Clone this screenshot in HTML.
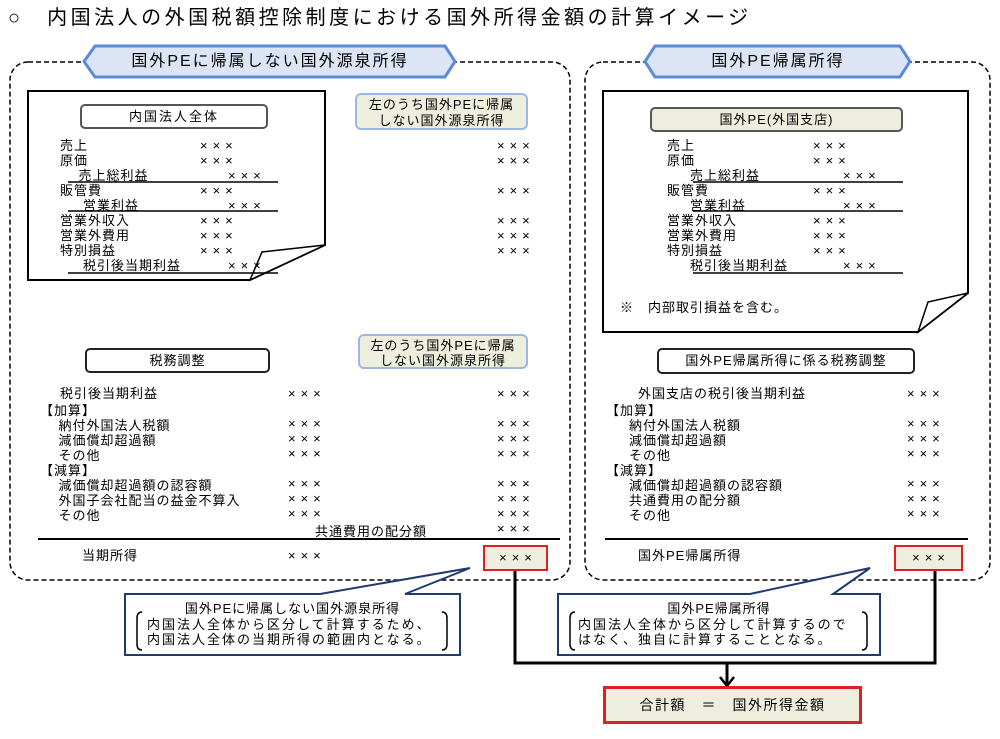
<!DOCTYPE html>
<html><head><meta charset="utf-8"><style>
body{margin:0;width:1000px;height:739px;background:#fff;position:relative;overflow:hidden;font-family:"Liberation Sans","Noto Sans CJK JP",sans-serif;color:#000}
.a{position:absolute;white-space:nowrap;font-size:13px;line-height:15px;letter-spacing:1px}
.x{letter-spacing:5px}
.b{position:absolute;box-sizing:border-box;letter-spacing:1px}
</style></head><body>
<svg width="1000" height="739" style="position:absolute;left:0;top:0">
<rect x="10" y="62" width="560" height="518" rx="18" fill="none" stroke="#000" stroke-width="1.5" stroke-dasharray="5,3"/>
<rect x="585" y="62" width="405" height="518" rx="18" fill="none" stroke="#000" stroke-width="1.5" stroke-dasharray="5,3"/>
<polygon points="95,46 445,46 455,61.5 445,77 95,77 84,61.5" fill="#dbe5f5" stroke="#5b8bd6" stroke-width="3"/>
<polygon points="655,46 900,46 910,61.5 900,77 655,77 645,61.5" fill="#dbe5f5" stroke="#5b8bd6" stroke-width="3"/>
<polygon points="28,91 325,91 325,245 250,280 28,280" fill="#fff" stroke="#000" stroke-width="2"/>
<polygon points="250,280 262,252 325,245" fill="#fff" stroke="#000" stroke-width="1.5"/>
<polygon points="603,91 968,91 968,293 918,332 603,332" fill="#fff" stroke="#000" stroke-width="2"/>
<polygon points="918,332 928,302 968,293" fill="#fff" stroke="#000" stroke-width="1.5"/>
<g stroke="#000" stroke-width="1.5">
<line x1="68" y1="182" x2="278" y2="182"/><line x1="68" y1="211" x2="278" y2="211"/><line x1="68" y1="273" x2="278" y2="273"/>
<line x1="693" y1="182" x2="903" y2="182"/><line x1="693" y1="211" x2="903" y2="211"/><line x1="693" y1="273" x2="903" y2="273"/>
<line x1="38" y1="539" x2="560" y2="539" stroke-width="2"/><line x1="605" y1="539" x2="968" y2="539" stroke-width="2"/>
</g>
<polyline points="515,570 515,663 935,663 935,570" fill="none" stroke="#000" stroke-width="3"/>
<line x1="727" y1="663" x2="727" y2="684" stroke="#000" stroke-width="3"/>
<polyline points="720,677 727,686 734,677" fill="none" stroke="#000" stroke-width="2.5"/>
<polygon points="125,594 320,594 470,568 405,594 460,594 460,655 125,655" fill="#fff" stroke="#1f3a6e" stroke-width="2"/>
<polygon points="558,594 750,594 870,568 833,594 880,594 880,655 558,655" fill="#fff" stroke="#1f3a6e" stroke-width="2"/>
<path d="M142,612 q-5,0 -5,6 v26 q0,6 5,6 M442,612 q5,0 5,6 v26 q0,6 -5,6" fill="none" stroke="#000" stroke-width="1.5"/>
<path d="M575,612 q-5,0 -5,6 v26 q0,6 5,6 M862,612 q5,0 5,6 v26 q0,6 -5,6" fill="none" stroke="#000" stroke-width="1.5"/>
</svg>
<div class="a" style="left:8px;top:6px;font-size:20px;line-height:24px;letter-spacing:3.5px">○　内国法人の外国税額控除制度における国外所得金額の計算イメージ</div>
<div class="a" style="left:84px;top:52px;width:372px;text-align:center;font-size:16px;line-height:20px;letter-spacing:2px">国外PEに帰属しない国外源泉所得</div>
<div class="a" style="left:645px;top:52px;width:266px;text-align:center;font-size:16px;line-height:20px;letter-spacing:2px">国外PE帰属所得</div>
<div class="b" style="left:80px;top:104px;width:188px;height:25px;border:2px solid #555;border-radius:5px;text-align:center;font-size:13px;line-height:21px;letter-spacing:2px">内国法人全体</div>
<div class="b" style="left:355px;top:93px;width:173px;height:37px;border:2px solid #9ab8e6;border-radius:6px;background:#eeeedf;text-align:center;font-size:13px;line-height:16px;padding-top:2px">左のうち国外PEに帰属<br>しない国外源泉所得</div>
<div class="b" style="left:85px;top:348px;width:185px;height:25px;border:2px solid #222;border-radius:5px;text-align:center;font-size:13px;line-height:21px">税務調整</div>
<div class="b" style="left:358px;top:334px;width:170px;height:35px;border:2px solid #9ab8e6;border-radius:6px;background:#eeeedf;text-align:center;font-size:13px;line-height:15px;padding-top:2px">左のうち国外PEに帰属<br>しない国外源泉所得</div>
<div class="b" style="left:650px;top:107px;width:253px;height:25px;border:2px solid #555;border-radius:5px;background:#eeeedf;text-align:center;font-size:13px;line-height:21px">国外PE(外国支店)</div>
<div class="b" style="left:657px;top:348px;width:258px;height:26px;border:2px solid #222;border-radius:5px;text-align:center;font-size:13px;line-height:22px">国外PE帰属所得に係る税務調整</div>
<div class="b" style="left:483px;top:545px;width:65px;height:26px;border:2px solid #e02020;background:#eeeedf;text-align:center;font-size:13px;line-height:22px;padding-left:5px;letter-spacing:5px">×××</div>
<div class="b" style="left:894px;top:545px;width:69px;height:26px;border:2px solid #e02020;background:#eeeedf;text-align:center;font-size:13px;line-height:22px;padding-left:5px;letter-spacing:5px">×××</div>
<div class="b" style="left:603px;top:686px;width:259px;height:38px;border:3px solid #e02020;background:#eeeedf;text-align:center;font-size:14px;line-height:32px;letter-spacing:1.5px">合計額　＝　国外所得金額</div>
<div class="a" style="left:125px;top:601px;width:335px;text-align:center">国外PEに帰属しない国外源泉所得</div>
<div class="a" style="left:147px;top:617px;letter-spacing:2px">内国法人全体から区分して計算するため、<br>内国法人全体の当期所得の範囲内となる。</div>
<div class="a" style="left:558px;top:601px;width:322px;text-align:center">国外PE帰属所得</div>
<div class="a" style="left:578px;top:617px;letter-spacing:2px">内国法人全体から区分して計算するので<br>はなく、独自に計算することとなる。</div>
<div class="a" style="left:60px;top:138px">売上<br>原価<br>&nbsp;&nbsp;&nbsp;&nbsp;売上総利益<br>販管費<br>&nbsp;&nbsp;&nbsp;&nbsp;&nbsp;営業利益<br>営業外収入<br>営業外費用<br>特別損益<br>&nbsp;&nbsp;&nbsp;&nbsp;&nbsp;税引後当期利益</div>
<div class="a x" style="left:200px;top:138px">×××<br>×××<br><br>×××<br><br>×××<br>×××<br>×××</div>
<div class="a x" style="left:228px;top:168px">×××<br><br>×××<br><br><br><br>×××</div>
<div class="a x" style="left:497px;top:138px">×××<br>×××<br><br>×××<br><br>×××<br>×××<br>×××</div>
<div class="a" style="left:667px;top:138px">売上<br>原価<br>&nbsp;&nbsp;&nbsp;&nbsp;&nbsp;売上総利益<br>販管費<br>&nbsp;&nbsp;&nbsp;&nbsp;&nbsp;営業利益<br>営業外収入<br>営業外費用<br>特別損益<br>&nbsp;&nbsp;&nbsp;&nbsp;&nbsp;税引後当期利益</div>
<div class="a x" style="left:813px;top:138px">×××<br>×××<br><br>×××<br><br>×××<br>×××<br>×××</div>
<div class="a x" style="left:843px;top:168px">×××<br><br>×××<br><br><br><br>×××</div>
<div class="a" style="left:620px;top:300px">※　内部取引損益を含む。</div>
<div class="a" style="left:60px;top:386px">税引後当期利益</div>
<div class="a" style="left:40px;top:403px">【加算】<br>&nbsp;&nbsp;&nbsp;&nbsp;納付外国法人税額<br>&nbsp;&nbsp;&nbsp;&nbsp;減価償却超過額<br>&nbsp;&nbsp;&nbsp;&nbsp;その他<br>【減算】<br>&nbsp;&nbsp;&nbsp;&nbsp;減価償却超過額の認容額<br>&nbsp;&nbsp;&nbsp;&nbsp;外国子会社配当の益金不算入<br>&nbsp;&nbsp;&nbsp;&nbsp;その他</div>
<div class="a x" style="left:288px;top:386px">×××<br><br>×××<br>×××<br>×××<br><br>×××<br>×××<br>×××</div>
<div class="a x" style="left:497px;top:386px">×××<br><br>×××<br>×××<br>×××<br><br>×××<br>×××<br>×××<br>×××</div>
<div class="a" style="left:315px;top:524px">共通費用の配分額</div>
<div class="a" style="left:82px;top:548px">当期所得</div>
<div class="a x" style="left:288px;top:548px">×××</div>
<div class="a" style="left:638px;top:386px">外国支店の税引後当期利益</div>
<div class="a" style="left:606px;top:403px">【加算】<br>&nbsp;&nbsp;&nbsp;&nbsp;&nbsp;納付外国法人税額<br>&nbsp;&nbsp;&nbsp;&nbsp;&nbsp;減価償却超過額<br>&nbsp;&nbsp;&nbsp;&nbsp;&nbsp;その他<br>【減算】<br>&nbsp;&nbsp;&nbsp;&nbsp;&nbsp;減価償却超過額の認容額<br>&nbsp;&nbsp;&nbsp;&nbsp;&nbsp;共通費用の配分額<br>&nbsp;&nbsp;&nbsp;&nbsp;&nbsp;その他</div>
<div class="a x" style="left:907px;top:386px">×××<br><br>×××<br>×××<br>×××<br><br>×××<br>×××<br>×××</div>
<div class="a" style="left:638px;top:548px">国外PE帰属所得</div>
</body></html>
